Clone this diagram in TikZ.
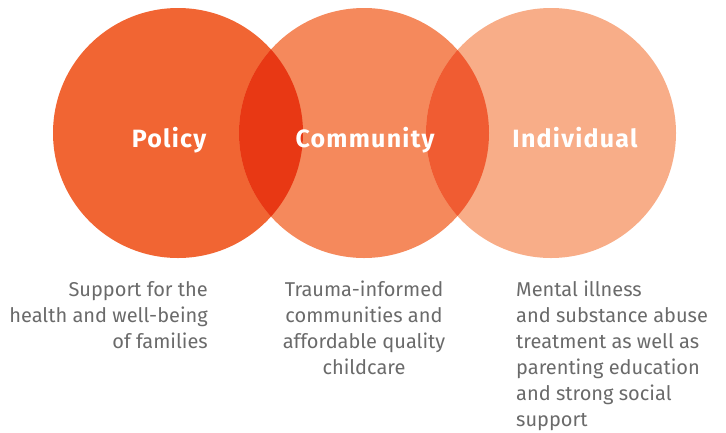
\documentclass[tikz,border=0pt]{standalone}
\usepackage{fontspec}
\setmainfont{Fira Sans}

\definecolor{policyfill}{HTML}{F16533}
\definecolor{communityfill}{HTML}{F5895C}
\definecolor{individualfill}{HTML}{F8AD88}
\definecolor{pcfill}{HTML}{E83814}
\definecolor{cifill}{HTML}{F05C32}
\definecolor{textgray}{HTML}{6A6A6A}

\begin{document}
\begin{tikzpicture}[x=1pt, y=-1pt,
  title/.style={font=\bfseries\fontsize{25}{30}\selectfont\addfontfeatures{LetterSpace=5}, text=white, inner sep=0pt, anchor=base},
  desc/.style={font=\fontsize{20}{26}\selectfont, text=textgray, inner sep=0pt}]

\useasboundingbox (0,0) rectangle (726,432);

% draw three circles
\coordinate (p) at (178,133);
\coordinate (c) at (364,133);
\coordinate (i) at (551,133);
\fill[policyfill] (p) circle (125pt);
\fill[communityfill] (c) circle (125pt);
\fill[individualfill] (i) circle (125pt);

% draw the overlaps
\begin{scope}
  \clip (p) circle (125pt);
  \fill[pcfill] (c) circle (125pt);
\end{scope}
\begin{scope}
  \clip (c) circle (125pt);
  \fill[cifill] (i) circle (125pt);
\end{scope}

% labels inside
\node[title] (policy) at (169,147) {Policy};
\node[title] (community) at (365,147) {Community};
\node[title] (individual) at (575,147) {Individual};

% text below
\node[desc, align=right, anchor=north east] (policytext) at (208,281)
  {Support for the\\health and well-being\\of families};
\node[desc, align=center, anchor=north] (communitytext) at (364,281)
  {Trauma-informed\\communities and\\affordable quality\\childcare};
\node[desc, align=left, anchor=north west] (individualtext) at (516,281)
  {Mental illness\\and substance abuse\\treatment as well as\\parenting education\\and strong social\\support};

\end{tikzpicture}
\end{document}
